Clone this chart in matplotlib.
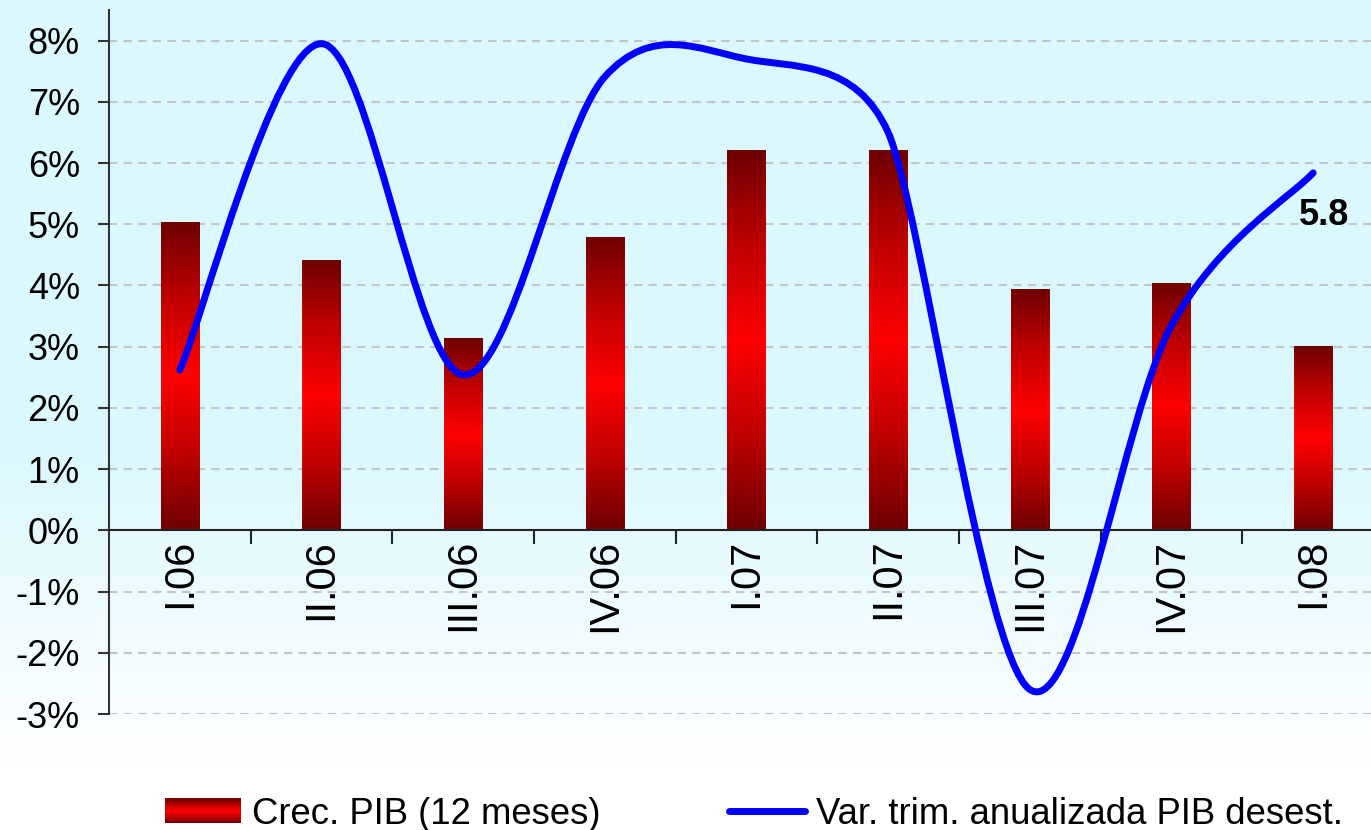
import numpy as np
import matplotlib
matplotlib.use('Agg')
import matplotlib.pyplot as plt
from matplotlib.path import Path
from matplotlib.patches import PathPatch, Rectangle
from matplotlib.colors import LinearSegmentedColormap
from matplotlib.legend_handler import HandlerBase
from matplotlib.lines import Line2D
from matplotlib.ticker import FixedLocator, FuncFormatter

plt.rcParams['font.family'] = ['Liberation Sans', 'DejaVu Sans']

# data
quarters = ['I.06', 'II.06', 'III.06', 'IV.06', 'I.07', 'II.07', 'III.07', 'IV.07', 'I.08']
pib_12m = [5.04, 4.42, 3.14, 4.80, 6.22, 6.22, 3.94, 4.04, 3.01]
var_trim = [2.62, 7.95, 2.54, 7.41, 7.70, 6.50, -2.60, 3.35, 5.84]
last_label = '5.8'

bar_name = 'Crec. PIB (12 meses)'
line_name = 'Var. trim. anualizada PIB desest.'

bar_cmap = LinearSegmentedColormap.from_list(
    'barred', ['#6E0000', '#C00000', '#FF0000', '#C00000', '#6E0000'])
bg_cmap = LinearSegmentedColormap.from_list(
    'bg', [(0.0, '#FFFFFF'), (0.08, '#FFFFFF'), (0.45, '#DCF8FF'), (1.0, '#DCF8FF')])

fig = plt.figure(figsize=(13.71, 8.30), dpi=100)

# background gradient (cyan at top, fading to white at bottom)
bg = fig.add_axes([0, 0, 1, 1], zorder=-5)
bg.imshow(np.linspace(0, 1, 256).reshape(-1, 1), aspect='auto', cmap=bg_cmap,
          origin='lower', extent=[0, 1, 0, 1])
bg.set_axis_off()

ax = fig.add_axes([109 / 1371, 116 / 830, 1275 / 1371, 704 / 830])
ax.set_facecolor('none')
x = np.arange(len(quarters))

# grid
for v in range(-3, 9):
    if v != 0:
        ax.axhline(v, color='#C4C4C4', lw=1.5, ls=(0, (4, 3)), zorder=0)

# bars with vertical gradient
bars = ax.bar(x, pib_12m, width=0.27, color='none', edgecolor='none', zorder=2)
grad = np.linspace(0, 1, 256).reshape(-1, 1)
for b in bars:
    x0, w, h = b.get_x(), b.get_width(), b.get_height()
    im = ax.imshow(grad, cmap=bar_cmap, aspect='auto', origin='lower',
                   extent=[x0, x0 + w, 0, h], zorder=2)
    im.set_clip_path(b)
ax.set_xlim(-0.5, len(quarters) - 0.5)
ax.set_ylim(-3, 8.5)

# smoothed line, Excel style: Bezier handles = (P[i+1]-P[i-1])/6,
# limited to half of the shorter neighbouring chord (in screen space)
pts = ax.transData.transform(np.column_stack([x, var_trim]).astype(float))
n = len(pts)
handles = []
for i in range(n):
    d = pts[min(i + 1, n - 1)] - pts[max(i - 1, 0)]
    dn = np.hypot(*d)
    chords = []
    if i > 0:
        chords.append(np.hypot(*(pts[i] - pts[i - 1])))
    if i < n - 1:
        chords.append(np.hypot(*(pts[i + 1] - pts[i])))
    hl = min(dn / 6.0, min(chords) / 2.0)
    handles.append(d / dn * hl if dn > 0 else d * 0)
verts = [pts[0]]
codes = [Path.MOVETO]
for i in range(n - 1):
    verts += [pts[i] + handles[i], pts[i + 1] - handles[i + 1], pts[i + 1]]
    codes += [Path.CURVE4] * 3
verts = ax.transData.inverted().transform(np.array(verts))
curve = PathPatch(Path(verts, codes), facecolor='none', edgecolor='#0000FF',
                  lw=5, capstyle='round', joinstyle='round', zorder=4)
ax.add_patch(curve)

ax.text(x[-1] + 0.08, 5.15, last_label, ha='center', va='center',
        fontsize=26, fontweight='bold', zorder=5)

# axes styling
for s in ['top', 'right']:
    ax.spines[s].set_visible(False)
ax.spines['left'].set_color('#333333')
ax.spines['left'].set_linewidth(1.5)
ax.spines['left'].set_bounds(-3, 8.5)
ax.spines['bottom'].set_position(('data', 0))
ax.spines['bottom'].set_color('#222222')
ax.spines['bottom'].set_linewidth(1.5)

ax.yaxis.set_major_locator(FixedLocator(range(-3, 9)))
ax.yaxis.set_major_formatter(FuncFormatter(lambda v, p: '%d%%' % v))
ax.tick_params(axis='y', length=8, width=1.5, color='#333333', pad=13,
               labelsize=26)

ax.set_xticks(x)
ax.set_xticklabels(quarters, rotation=90, fontsize=30)
ax.set_xticks(np.arange(len(quarters)) + 0.5, minor=True)
ax.tick_params(axis='x', which='major', length=0, pad=6)
ax.tick_params(axis='x', which='minor', length=10, width=1.5, color='#222222')


class GradHandler(HandlerBase):
    def create_artists(self, legend, orig_handle, xdescent, ydescent,
                       width, height, fontsize, trans):
        k = 12
        out = []
        for j in range(k):
            r = Rectangle((-xdescent, -ydescent + height * j / k), width,
                          height / k + 0.3, facecolor=bar_cmap((j + 0.5) / k),
                          edgecolor='none', transform=trans)
            out.append(r)
        return out


bar_handle = Rectangle((0, 0), 1, 1)
line_handle = Line2D([], [], color='#0000FF', lw=5, solid_capstyle='round')
fig.legend([bar_handle, line_handle], [bar_name, line_name],
           handler_map={Rectangle: GradHandler()},
           loc='center', bbox_to_anchor=(754 / 1371, 1 - 814 / 830), ncol=2,
           frameon=False, fontsize=26.3, handlelength=2.1, handleheight=0.65,
           handletextpad=0.3, columnspacing=3.5)

fig.savefig('out.png', dpi=100)
